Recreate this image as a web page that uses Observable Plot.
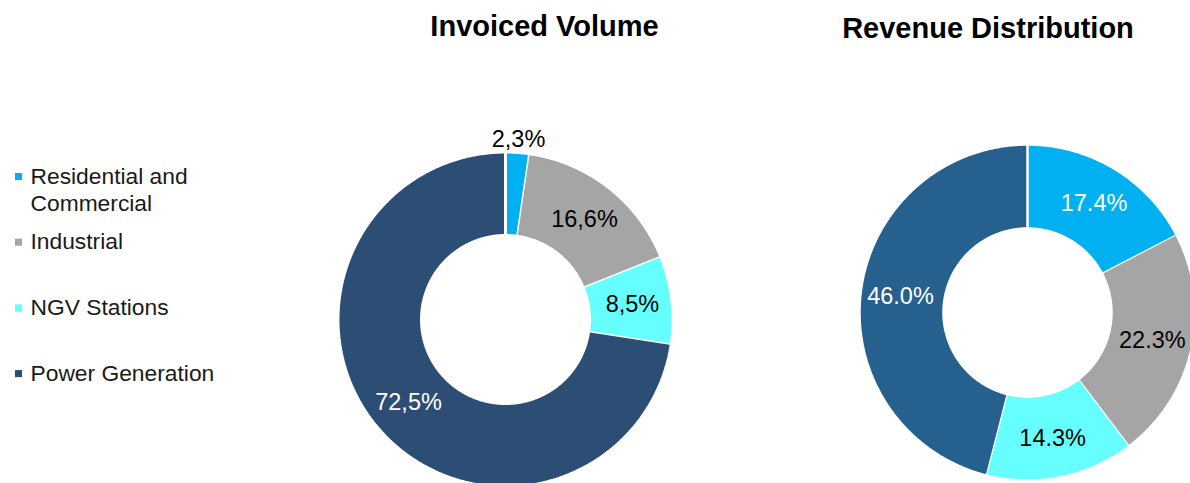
<!DOCTYPE html>
<html><head><meta charset="utf-8">
<script src="https://cdn.jsdelivr.net/npm/d3@7"></script>
<script src="https://cdn.jsdelivr.net/npm/@observablehq/plot@0.6"></script>
<style>
html,body{margin:0;padding:0;background:#fff;}
#chart{width:1190px;height:483px;overflow:hidden;font-family:"Liberation Sans",Arial,sans-serif;}
</style>
</head><body><div id="chart"></div>
<script>
// ---- data ----
const categories = ["Residential and Commercial", "Industrial", "NGV Stations", "Power Generation"];
const legendLabels = ["Residential and\nCommercial", "Industrial", "NGV Stations", "Power Generation"];
const invoicedVolume = [2.3, 16.6, 8.5, 72.5];
const revenueDistribution = [17.4, 22.3, 14.3, 46.0];
const chartTitles = ["Invoiced Volume", "Revenue Distribution"];

// ---- styles / layout ----
const W = 1190, H = 483;
const FONT = '"Liberation Sans", Arial, sans-serif';
const colorsVolume = ["#00B0F0", "#A5A5A5", "#66FFFF", "#2D4E74"];
const colorsRevenue = ["#00B0F0", "#A5A5A5", "#66FFFF", "#26608E"];
const legendColors = colorsVolume;

const donuts = [
  {title: chartTitles[0], values: invoicedVolume, colors: colorsVolume,
   cx: 505, cy: 319, R: 167.5, r: 84, stroke: 3,
   fmt: v => v.toFixed(1).replace(".", ",") + "%", titleX: 544, titleY: 26.5},
  {title: chartTitles[1], values: revenueDistribution, colors: colorsRevenue,
   cx: 1027, cy: 312, R: 168, r: 84, stroke: 2.5,
   fmt: v => v.toFixed(1) + "%", titleX: 987.5, titleY: 28.5}
];

const sliceData = donuts.map(() => []);
const labels = [];
donuts.forEach((d, di) => {
  const arcs = d3.pie().sort(null).value(v => v)(d.values);
  arcs.forEach((a, i) => {
    const key = categories[i];
    const span = a.endAngle - a.startAngle;
    const n = Math.max(6, Math.ceil(span / 0.01));
    for (let k = 0; k <= n; k++) {
      const t = a.startAngle + span * k / n;
      sliceData[di].push({key, color: d.colors[i], x: d.cx + d.R * Math.sin(t), y: d.cy - d.R * Math.cos(t)});
    }
    for (let k = n; k >= 0; k--) {
      const t = a.startAngle + span * k / n;
      sliceData[di].push({key, color: d.colors[i], x: d.cx + d.r * Math.sin(t), y: d.cy - d.r * Math.cos(t)});
    }
    const mid = (a.startAngle + a.endAngle) / 2;
    const outside = d.values[i] < 5;
    const lr = outside ? d.R + 13 : (d.R + d.r) / 2 + 2;
    labels.push({
      x: d.cx + lr * Math.sin(mid), y: d.cy - lr * Math.cos(mid),
      text: d.fmt(d.values[i]),
      fill: (!outside && (i === 0 || i === 3)) ? "white" : "black"
    });
  });
});

const legendRows = legendLabels.map((label, i) => ({
  label, color: legendColors[i], base: 183 + i * 65.7
}));

const plot = Plot.plot({
  width: W, height: H, margin: 0,
  style: {fontFamily: FONT, background: "white"},
  x: {domain: [0, W], range: [0, W], axis: null},
  y: {domain: [0, H], range: [0, H], axis: null},
  color: {type: "identity"},
  marks: [
    ...donuts.map((d, di) => Plot.line(sliceData[di], {
      x: "x", y: "y", z: "key", fill: "color", stroke: "white",
      strokeWidth: d.stroke, strokeLinejoin: "miter", curve: "linear"
    })),
    Plot.text(labels, {x: "x", y: "y", text: "text", fill: "fill", fontSize: 23.5, lineAnchor: "middle", textAnchor: "middle"}),
    Plot.text(donuts, {x: "titleX", y: "titleY", text: "title", fontSize: 29, fontWeight: "bold", fill: "black", lineAnchor: "middle"}),
    Plot.dot(legendRows, {x: () => 18, y: d => d.base - 7, symbol: "square", r: 4, fill: "color", stroke: null}),
    Plot.text(legendRows, {x: () => 30, y: d => d.base - 19, text: "label", textAnchor: "start", lineAnchor: "top", fontSize: 22.8, lineHeight: 1.18, fill: "#1a1a1a"})
  ]
});
document.getElementById("chart").appendChild(plot);
</script>
</body></html>
